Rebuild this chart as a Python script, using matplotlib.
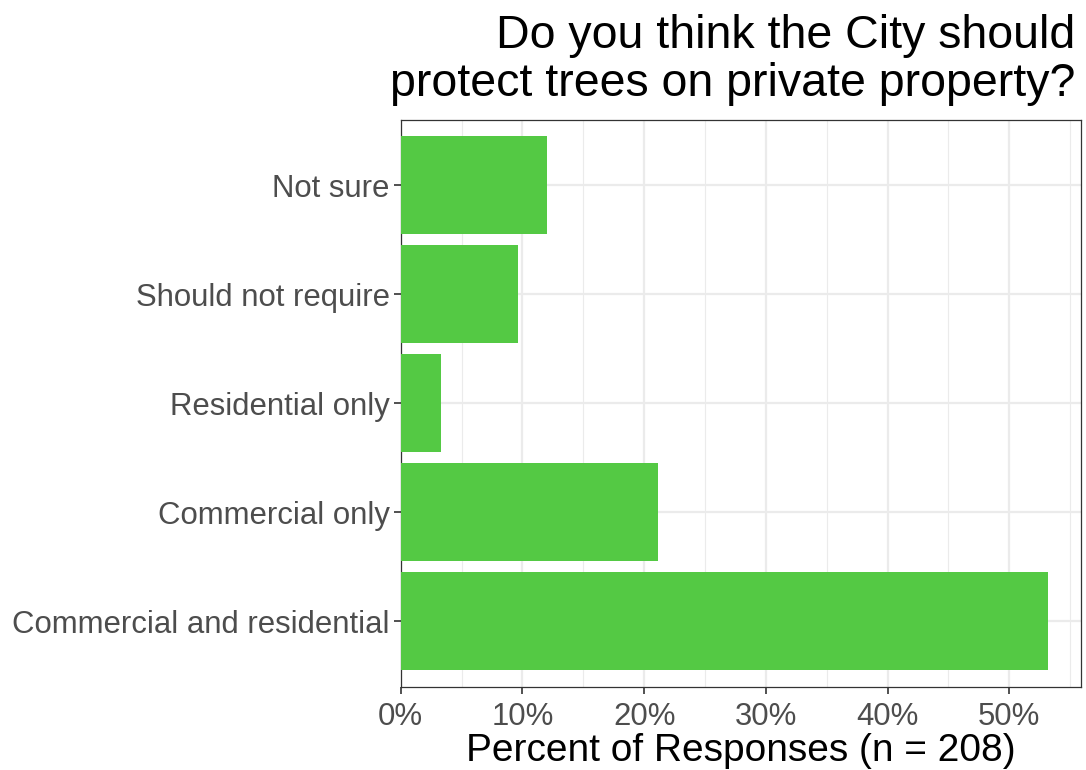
import matplotlib
matplotlib.use("Agg")
import matplotlib.pyplot as plt
from matplotlib.ticker import FuncFormatter, MultipleLocator

categories = ["Commercial and residential", "Commercial only", "Residential only",
              "Should not require", "Not sure"]
percents = [53.2, 21.1, 3.3, 9.6, 12.0]
x_ticks = [0, 10, 20, 30, 40, 50]
title = "Do you think the City should\nprotect trees on private property?"
xlabel = "Percent of Responses (n = 208)"

plt.rcParams['font.family'] = ['Liberation Sans', 'DejaVu Sans']

fig = plt.figure(figsize=(10.86, 7.70), dpi=100)
ax = fig.add_axes([400.7/1086, 1-686.7/770, 680/1086, (686.7-120)/770])

ypos = list(range(len(categories)))
ax.barh(ypos, percents, height=0.9, color="#54C944", zorder=3)

xmax = max(percents)
ax.set_xlim(0, xmax*1.05)
ax.set_ylim(-0.6, len(categories)-1+0.6)

ax.set_yticks(ypos)
ax.set_yticklabels(categories)
ax.set_xticks(x_ticks)
ax.xaxis.set_minor_locator(MultipleLocator(5))
ax.xaxis.set_major_formatter(FuncFormatter(lambda v, p: f"{v:.0f}%"))

ax.grid(which="major", color="#EBEBEB", linewidth=1.6, zorder=0)
ax.grid(which="minor", axis="x", color="#EBEBEB", linewidth=0.8, zorder=0)
ax.tick_params(axis="both", which="major", length=5, width=1.2, color="#333333",
               labelsize=22.4, labelcolor="#4D4D4D", pad=3)
ax.tick_params(axis="x", which="major", pad=6)
ax.tick_params(axis="x", which="minor", length=0)
for s in ax.spines.values():
    s.set_color("#333333")
    s.set_linewidth(0.9)

ax.set_xlabel(xlabel, fontsize=28, color="black", labelpad=1)
fig.text(1075/1086, 1-14/770, title, ha="right", va="top", fontsize=33.5,
         color="black", linespacing=1.12)

fig.savefig("out.png", dpi=100)
